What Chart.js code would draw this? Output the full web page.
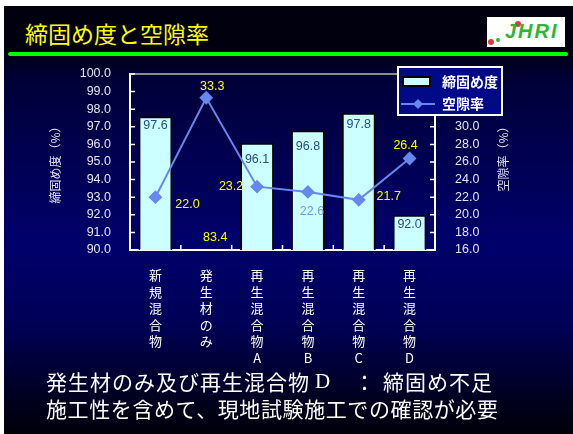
<!DOCTYPE html>
<html lang="ja">
<head>
<meta charset="utf-8">
<title>締固め度と空隙率</title>
<script src="https://cdn.jsdelivr.net/npm/chart.js@4.4.1/dist/chart.umd.min.js"></script>
<style>
  html, body { margin: 0; padding: 0; }
  body {
    width: 573px; height: 434px; overflow: hidden; position: relative;
    font-family: "Noto Sans CJK JP", sans-serif;
    background: linear-gradient(to bottom, #00000f 0px, #000014 52px, #000038 80px,
      #00006c 240px, #000058 320px, #000018 410px, #00000a 434px);
  }
  .edge-top { position: absolute; left: 0; top: 0; width: 573px; height: 6px; background: #fff; }
  .edge-left { position: absolute; left: 0; top: 0; width: 4px; height: 434px; background: #fff; }
  .titlebar { position: absolute; left: 4px; top: 6px; width: 569px; height: 47px; background: #00000f; }
  .title { position: absolute; left: 25px; top: 17px; color: #ffff00; font-size: 23px; line-height: 32px; white-space: nowrap; }
  .rule { position: absolute; left: 8px; top: 52px; width: 560px; height: 4px; background: #00ff00; border-radius: 2px; }
  .logo { position: absolute; left: 487px; top: 17px; width: 78px; height: 30px; background: #fff; overflow: hidden; }
  .logo .mark { position: absolute; left: 18px; top: 3px; font: italic bold 20px "Liberation Sans", sans-serif;
    color: #2fb52f; letter-spacing: 2px; }
  .logo .dot { position: absolute; border-radius: 50%; }
  .note { position: absolute; color: #fff; font-size: 21px; line-height: 28px; white-space: nowrap; }
  #wrap { position: absolute; left: 0; top: 0; width: 573px; height: 434px; }
</style>
</head>
<body>
<div class="edge-top"></div>
<div class="edge-left"></div>
<div class="titlebar"></div>
<div class="title">締固め度と空隙率</div>
<div class="rule"></div>
<div class="logo">
  <span class="dot" style="left:1px;top:22px;width:6px;height:6px;background:#e23a3a;"></span>
  <span class="dot" style="left:9px;top:21px;width:4px;height:4px;background:#2fb52f;"></span>
  <span class="dot" style="left:28px;top:4px;width:6px;height:6px;background:#e23a3a;"></span>
  <span class="mark">JHRI</span>
</div>

<div id="wrap"><canvas id="chart"></canvas></div>

<div class="note" style="left:46px;top:367px;letter-spacing:1px;">発生材のみ及び再生混合物</div>
<div class="note" style="left:315px;top:367px;font-family:'Liberation Serif',serif;">D</div>
<div class="note" style="left:354px;top:367px;">：</div>
<div class="note" style="left:383px;top:367px;letter-spacing:1px;">締固め不足</div>
<div class="note" style="left:46px;top:394px;letter-spacing:0.6px;">施工性を含めて、現地試験施工での確認が必要</div>

<script>
// 試料ごとの値
const categories = [
  ["新", "規", "混", "合", "物"],
  ["発", "生", "材", "の", "み"],
  ["再", "生", "混", "合", "物", "A"],
  ["再", "生", "混", "合", "物", "B"],
  ["再", "生", "混", "合", "物", "C"],
  ["再", "生", "混", "合", "物", "D"],
];
const compaction = [97.6, 83.4, 96.1, 96.8, 97.8, 92.0];   // 締固め度 (%)
const voidRatio = [22.0, 33.3, 23.2, 22.6, 21.7, 26.4];    // 空隙率 (%)

// ラベルのずらし量
const barLabelDy = [9, 0, 17, 16, 12, 10];
const lineLabelOffset = [[32, 7], [6, -11], [-26, 0], [4, 20], [30, -3], [-4, -13]];
const lineLabelColor = ["#ffff00", "#ffff00", "#ffff00", "#7a98ea", "#ffff00", "#ffff00"];

const BAR_FILL = "#ccffff";
const LINE_COLOR = "#6688ee";
const TICK_COLOR = "#e4e4ee";
const JP = '"Noto Sans CJK JP", sans-serif';
const NUM = '"Liberation Sans", Arial, sans-serif';

// 軸の内向き目盛りと上枠
const frame = {
  id: "frame",
  afterDatasetsDraw(chart) {
    const { ctx, chartArea: a, scales } = chart;
    ctx.save();
    ctx.strokeStyle = "#8c8c8c";
    ctx.lineWidth = 2;
    ctx.beginPath();
    ctx.moveTo(a.left, a.top);
    ctx.lineTo(a.right, a.top);
    ctx.stroke();

    ctx.strokeStyle = "#ffffff";
    ctx.lineWidth = 1.5;
    ctx.beginPath();
    scales.y.ticks.forEach(t => {
      const p = scales.y.getPixelForValue(t.value);
      ctx.moveTo(a.left, p); ctx.lineTo(a.left + 5, p);
    });
    scales.y1.ticks.forEach(t => {
      const p = scales.y1.getPixelForValue(t.value);
      ctx.moveTo(a.right - 5, p); ctx.lineTo(a.right, p);
    });
    for (let i = 1; i < categories.length; i++) {
      const p = (scales.x.getPixelForValue(i - 1) + scales.x.getPixelForValue(i)) / 2;
      ctx.moveTo(p, a.bottom); ctx.lineTo(p, a.bottom - 5);
    }
    ctx.stroke();
    ctx.restore();
  },
};

// 数値ラベル、右軸タイトル、凡例
const overlay = {
  id: "overlay",
  afterDraw(chart) {
    const { ctx, chartArea: a, scales } = chart;
    ctx.save();
    ctx.font = "12.5px " + NUM;
    ctx.textAlign = "center";
    ctx.textBaseline = "middle";

    chart.getDatasetMeta(1).data.forEach((bar, i) => {
      const v = compaction[i];
      if (v < scales.y.min) {
        ctx.fillStyle = "#ffff00";
        ctx.fillText(v.toFixed(1), bar.x + 9, a.bottom - 12);
      } else {
        ctx.fillStyle = "#2b4c7e";
        ctx.fillText(v.toFixed(1), bar.x, bar.y + barLabelDy[i]);
      }
    });
    chart.getDatasetMeta(0).data.forEach((pt, i) => {
      ctx.fillStyle = lineLabelColor[i];
      ctx.fillText(voidRatio[i].toFixed(1), pt.x + lineLabelOffset[i][0], pt.y + lineLabelOffset[i][1]);
    });

    // 右軸タイトル
    ctx.save();
    ctx.translate(503, 156);
    ctx.rotate(-Math.PI / 2);
    ctx.font = "12px " + JP;
    ctx.fillStyle = TICK_COLOR;
    ctx.fillText("空隙率（%）", 0, 0);
    ctx.restore();

    // 凡例
    const lx = 398, ly = 67, lw = 104, lh = 48;
    ctx.fillStyle = "#000a88";
    ctx.fillRect(lx, ly, lw, lh);
    ctx.strokeStyle = "#ffffff";
    ctx.lineWidth = 2;
    ctx.strokeRect(lx, ly, lw, lh);

    ctx.fillStyle = BAR_FILL;
    ctx.fillRect(lx + 5, ly + 10, 27, 9);
    ctx.strokeStyle = "#000000";
    ctx.lineWidth = 2;
    ctx.strokeRect(lx + 5, ly + 10, 27, 9);

    ctx.strokeStyle = LINE_COLOR;
    ctx.beginPath();
    ctx.moveTo(lx + 3, ly + 37);
    ctx.lineTo(lx + 37, ly + 37);
    ctx.stroke();
    ctx.fillStyle = LINE_COLOR;
    ctx.beginPath();
    ctx.moveTo(lx + 20, ly + 32);
    ctx.lineTo(lx + 25, ly + 37);
    ctx.lineTo(lx + 20, ly + 42);
    ctx.lineTo(lx + 15, ly + 37);
    ctx.closePath();
    ctx.fill();

    ctx.font = "bold 14px " + JP;
    ctx.fillStyle = "#ffffff";
    ctx.textAlign = "left";
    ctx.fillText(chart.data.datasets[1].label, lx + 44, ly + 15);
    ctx.fillText(chart.data.datasets[0].label, lx + 44, ly + 37);
    ctx.restore();
  },
};

new Chart(document.getElementById("chart"), {
  type: "bar",
  data: {
    labels: categories,
    datasets: [
      {
        type: "line",
        label: "空隙率",
        data: voidRatio,
        yAxisID: "y1",
        order: 0,
        borderColor: LINE_COLOR,
        backgroundColor: LINE_COLOR,
        borderWidth: 2,
        pointStyle: "rectRot",
        pointRadius: 5.5,
        pointBackgroundColor: LINE_COLOR,
        pointBorderColor: LINE_COLOR,
        tension: 0,
      },
      {
        label: "締固め度",
        data: compaction,
        yAxisID: "y",
        order: 1,
        backgroundColor: BAR_FILL,
        borderColor: "#000000",
        borderWidth: 2,
        barPercentage: 0.67,
        categoryPercentage: 1.0,
        clip: 0,
      },
    ],
  },
  options: {
    responsive: true,
    maintainAspectRatio: false,
    animation: false,
    layout: { padding: { top: 74, left: 0, right: 0, bottom: 0 } },
    plugins: {
      legend: { display: false },
      tooltip: { enabled: false },
    },
    scales: {
      x: {
        z: 1,
        grid: { display: false, drawTicks: false },
        border: { color: "#ffffff", width: 2 },
        ticks: {
          color: "#ffffff",
          font: { family: JP, size: 13, lineHeight: 1.27 },
          padding: 17,
          maxRotation: 0,
          autoSkip: false,
        },
        afterFit(s) { s.height = 184; },
      },
      y: {
        z: 1,
        position: "left",
        min: 90,
        max: 100,
        grid: { display: false, drawTicks: false },
        border: { color: "#ffffff", width: 2 },
        ticks: {
          stepSize: 1,
          autoSkip: false,
          color: TICK_COLOR,
          font: { family: NUM, size: 12.5 },
          padding: 19,
          callback: v => v.toFixed(1),
        },
        title: {
          display: true,
          text: "締固め度（%）",
          color: TICK_COLOR,
          font: { family: JP, size: 12 },
          padding: { top: 48, bottom: 0 },
        },
        afterFit(s) { s.width = 130; },
      },
      y1: {
        z: 1,
        position: "right",
        min: 16,
        max: 36,
        grid: { display: false, drawTicks: false },
        border: { color: "#ffffff", width: 2 },
        ticks: {
          stepSize: 2,
          autoSkip: false,
          color: TICK_COLOR,
          font: { family: NUM, size: 12.5 },
          padding: 20,
          callback: v => v.toFixed(1),
        },
        afterFit(s) { s.width = 138; },
      },
    },
  },
  plugins: [frame, overlay],
});
</script>
</body>
</html>
